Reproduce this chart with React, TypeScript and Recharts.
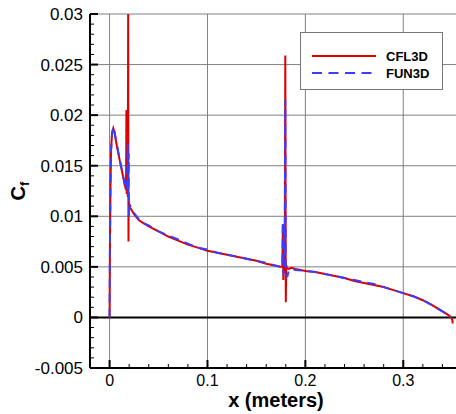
import { LineChart, Line, XAxis, YAxis, CartesianGrid, ReferenceLine, Legend } from 'recharts';

// skin friction along the wall
const cfl3dX = [
    0, 0.0003, 0.0008, 0.0015, 0.0025, 0.0038, 0.005, 0.007, 0.01, 0.013, 0.0155, 0.0168, 0.0172, 0.0175,
    0.018, 0.0186, 0.019, 0.0193, 0.0195, 0.0198, 0.0205, 0.022, 0.025, 0.03, 0.035, 0.04, 0.05, 0.06,
    0.07, 0.08, 0.09, 0.1, 0.11, 0.12, 0.13, 0.14, 0.15, 0.16, 0.17, 0.175, 0.1765, 0.177, 0.1775, 0.178,
    0.1785, 0.179, 0.1795, 0.18, 0.1805, 0.181, 0.183, 0.186, 0.19, 0.2, 0.21, 0.22, 0.23, 0.24, 0.25,
    0.26, 0.27, 0.28, 0.29, 0.3, 0.31, 0.32, 0.33, 0.335, 0.34, 0.345, 0.348, 0.35, 0.3505,
];
const cfl3dCf = [
    0, 0.006, 0.012, 0.0165, 0.0182, 0.0187, 0.0183, 0.0172, 0.0157, 0.0143, 0.0131, 0.0126, 0.0205, 0.0122,
    0.0138, 0.0119, 0.03, 0.0075, 0.0118, 0.0112, 0.0109, 0.0107, 0.0102, 0.0096, 0.0093, 0.009, 0.0085, 0.008,
    0.0076, 0.0072, 0.0069, 0.0066, 0.0064, 0.0062, 0.006, 0.0058, 0.0056, 0.0053, 0.0051, 0.005, 0.005, 0.0092, 0.0037, 0.0088,
    0.0044, 0.006, 0.0259, 0.0015, 0.0052, 0.0049, 0.0048, 0.0049, 0.0048, 0.0046, 0.0045, 0.0043, 0.0041, 0.0039, 0.0036,
    0.0034, 0.0032, 0.003, 0.0027, 0.0024, 0.0021, 0.0017, 0.0012, 0.0009, 0.0006, 0.0003, 0.0001, -0.0002, -0.0006,
];

const fun3dX = [
    0, 0.0003, 0.0008, 0.0015, 0.0025, 0.0038, 0.005, 0.007, 0.01, 0.013, 0.0155, 0.0168, 0.0178, 0.0185,
    0.019, 0.0195, 0.0198, 0.0205, 0.022, 0.025, 0.03, 0.035, 0.04, 0.05, 0.06, 0.07, 0.08, 0.09, 0.1,
    0.11, 0.12, 0.13, 0.14, 0.15, 0.16, 0.17, 0.175, 0.1765, 0.177, 0.1775, 0.178, 0.1788, 0.1795, 0.18,
    0.1815, 0.183, 0.186, 0.19, 0.2, 0.21, 0.22, 0.23, 0.24, 0.25, 0.26, 0.27, 0.28, 0.29, 0.3, 0.31,
    0.32, 0.33, 0.335, 0.34, 0.345, 0.348,
];
const fun3dCf = [
    0, 0.006, 0.012, 0.0165, 0.0182, 0.0188, 0.0184, 0.0173, 0.0158, 0.0144, 0.0132, 0.0126, 0.0135, 0.0172,
    0.012, 0.0162, 0.01, 0.0112, 0.0108, 0.0103, 0.0097, 0.0093, 0.0091, 0.0085, 0.0081, 0.0077, 0.0073, 0.0069, 0.0067,
    0.0064, 0.0062, 0.006, 0.0058, 0.0056, 0.0054, 0.0051, 0.005, 0.005, 0.0095, 0.0042, 0.009, 0.005, 0.0215, 0.0047,
    0.004, 0.0046, 0.0048, 0.0047, 0.0046, 0.0045, 0.0043, 0.0041, 0.0039, 0.0037, 0.0035, 0.0033, 0.003, 0.0027, 0.0024, 0.0021,
    0.0017, 0.0012, 0.0009, 0.0006, 0.0003, 0,
];

const xMajorTicks = [0, 0.1, 0.2, 0.3];
const xMajorLabels = ['0', '0.1', '0.2', '0.3'];
const xAllTicks = [
    -0.02, 0, 0.02, 0.04, 0.06, 0.08, 0.1, 0.12, 0.14, 0.16, 0.18, 0.2, 0.22, 0.24, 0.26, 0.28, 0.3, 0.32, 0.34, 0.36,
];

const yMajorTicks = [-0.005, 0, 0.005, 0.01, 0.015, 0.02, 0.025, 0.03];
const yMajorLabels = ['-0.005', '0', '0.005', '0.01', '0.015', '0.02', '0.025', '0.03'];
const yAllTicks = [
    -0.005, -0.004, -0.003, -0.002, -0.001, 0, 0.001, 0.002, 0.003, 0.004, 0.005, 0.006, 0.007, 0.008, 0.009,
    0.01, 0.011, 0.012, 0.013, 0.014, 0.015, 0.016, 0.017, 0.018, 0.019, 0.02, 0.021, 0.022, 0.023, 0.024,
    0.025, 0.026, 0.027, 0.028, 0.029, 0.03,
];
const yGridValues = [0.005, 0.01, 0.015, 0.02, 0.025, 0.03];

const RED = '#dd0000';
const BLUE = '#3c3cff';
const FONT = '"Liberation Sans", Arial, Helvetica, sans-serif';

const cfl3dData = cfl3dX.map((x, i) => ({ x, cf: cfl3dCf[i] }));
const fun3dData = fun3dX.map((x, i) => ({ x, cf: fun3dCf[i] }));

function majorIndex(v: number, majors: number[]) {
    return majors.findIndex((m) => Math.abs(m - v) < 1e-9);
}

const XTick = (props: any) => {
    const { x, y, payload } = props;
    const idx = majorIndex(payload.value, xMajorTicks);
    const major = idx >= 0;
    return (
        <g>
            <line x1={x} x2={x} y1={y} y2={y - (major ? 8 : 4)} stroke="#000" strokeWidth={major ? 2 : 1} />
            {major && (
                <text x={x} y={y + 17.5} textAnchor="middle" fontSize={16} fontFamily={FONT} fill="#000">
                    {xMajorLabels[idx]}
                </text>
            )}
        </g>
    );
};

const YTick = (props: any) => {
    const { x, y, payload } = props;
    const idx = majorIndex(payload.value, yMajorTicks);
    const major = idx >= 0;
    return (
        <g>
            <line x1={x} x2={x + (major ? 8 : 4)} y1={y} y2={y} stroke="#000" strokeWidth={major ? 2 : 1} />
            {major && (
                <text x={x - 7} y={y + 6} textAnchor="end" fontSize={17} fontFamily={FONT} fill="#000">
                    {yMajorLabels[idx]}
                </text>
            )}
        </g>
    );
};

const XTitle = (props: any) => {
    const vb = props.viewBox;
    return (
        <text x={vb.x + vb.width / 2} y={vb.y + 39} textAnchor="middle" fontSize={20} fontWeight="bold" fontFamily={FONT} fill="#000">
            x (meters)
        </text>
    );
};

const YTitle = (props: any) => {
    const vb = props.viewBox;
    const cx = 25;
    const cy = vb.y + vb.height / 2;
    return (
        <text transform={`translate(${cx},${cy}) rotate(-90)`} textAnchor="middle" fontSize={20} fontWeight="bold" fontFamily={FONT} fill="#000">
            C<tspan fontSize={13} dy={4}>f</tspan>
        </text>
    );
};

const LegendBox = () => (
    <div style={{ border: '1px solid #777', background: '#fff', width: 141, height: 56, position: 'relative', fontFamily: FONT, fontWeight: 'bold', fontSize: 13 }}>
        <svg width={141} height={56} style={{ position: 'absolute', left: 0, top: 0 }}>
            <line x1={11} x2={75} y1={23} y2={23} stroke={RED} strokeWidth={2} />
            <line x1={11} x2={75} y1={40} y2={40} stroke={BLUE} strokeWidth={2} strokeDasharray="10 6.5" />
            <text x={85} y={28} fontSize={13} fontWeight="bold" fontFamily={FONT}>CFL3D</text>
            <text x={85} y={45} fontSize={13} fontWeight="bold" fontFamily={FONT}>FUN3D</text>
        </svg>
    </div>
);

export default function App() {
    return (
        <div style={{ position: 'fixed', left: 0, top: 0, width: 456, height: 414, overflow: 'hidden', background: '#fff' }}>
            <LineChart width={462} height={414} margin={{ top: 14, right: 0, bottom: 0, left: 0 }}>
                <CartesianGrid stroke="#808080" strokeWidth={1} verticalValues={xMajorTicks} horizontalValues={yGridValues} />
                <XAxis
                    dataKey="x"
                    type="number"
                    domain={[-0.02, 0.36]}
                    allowDataOverflow
                    ticks={xAllTicks}
                    interval={0}
                    tickSize={0}
                    tickMargin={0}
                    tickLine={false}
                    tick={<XTick />}
                    axisLine={{ stroke: '#000', strokeWidth: 2 }}
                    height={46}
                    label={<XTitle />}
                />
                <YAxis
                    type="number"
                    domain={[-0.005, 0.03]}
                    allowDataOverflow
                    ticks={yAllTicks}
                    interval={0}
                    tickSize={0}
                    tickMargin={0}
                    tickLine={false}
                    tick={<YTick />}
                    axisLine={{ stroke: '#000', strokeWidth: 2 }}
                    width={90}
                    label={<YTitle />}
                />
                <ReferenceLine y={0} stroke="#000" strokeWidth={2} />
                <Line data={cfl3dData} dataKey="cf" name="CFL3D" type="linear" stroke={RED} strokeWidth={2} dot={false} isAnimationActive={false} />
                <Line data={fun3dData} dataKey="cf" name="FUN3D" type="linear" stroke={BLUE} strokeWidth={2} strokeDasharray="9 6" dot={false} isAnimationActive={false} />
                <Legend
                    layout="vertical"
                    align="center"
                    verticalAlign="middle"
                    content={<LegendBox />}
                    wrapperStyle={{ position: 'absolute', left: 300, top: 32, width: 143, height: 58 }}
                />
            </LineChart>
        </div>
    );
}
